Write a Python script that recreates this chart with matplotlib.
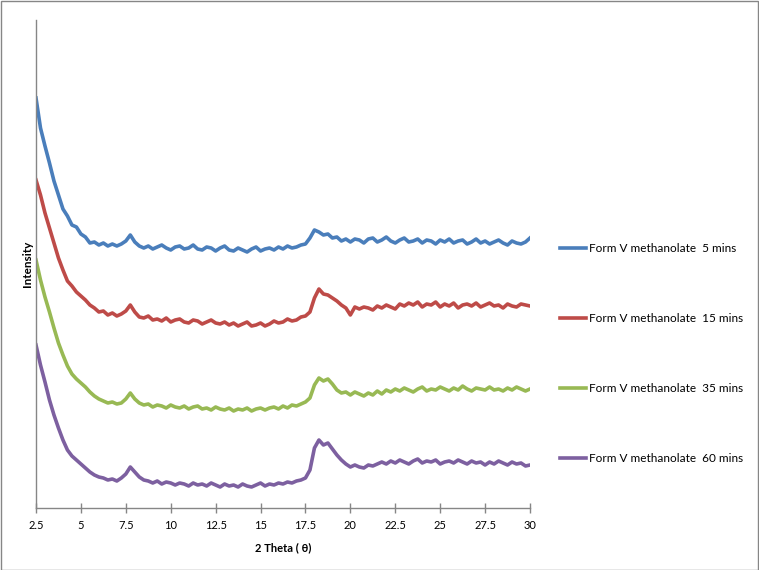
import numpy as np
import matplotlib
matplotlib.use("Agg")
import matplotlib.pyplot as plt
from matplotlib.patches import Rectangle

plt.rcParams['font.family'] = ['Lato', 'DejaVu Sans']

two_theta = np.arange(2.5, 30.001, 0.25)

form_v_5 = [410, 380, 362, 345, 327, 313, 299, 292, 283, 281,
            274, 271, 265, 266, 263, 265, 262, 264, 262, 264,
            267, 273,
            266, 262, 260, 262, 259, 261, 263, 260, 258, 261,
            262, 259, 260, 263, 259, 258, 261, 260, 257, 260,
            262, 258, 257, 260, 258, 256, 259, 261, 257, 259,
            260, 258, 261, 259, 262, 260, 261, 263, 264,
            270, 278, 276, 273, 274, 270, 271, 267, 269,
            266, 269, 268, 265, 269, 270, 266, 268, 271, 267,
            265, 268, 270, 266, 267, 269, 265, 268, 267, 264,
            268, 266, 269, 265, 267, 268, 264, 266, 269, 265,
            267, 264, 266, 268, 265, 263, 267, 265, 264, 266,
            270]

form_v_15 = [328, 313, 295, 280, 265, 250, 238, 227, 222, 216,
             212, 208, 203, 200, 196, 197, 193, 195, 192, 194,
             197, 203,
             196, 191, 190, 192, 188, 189, 187, 190, 186, 188,
             189, 186, 185, 188, 187, 184, 186, 188, 185, 184,
             186, 183, 185, 182, 184, 186, 182, 183, 185, 182,
             184, 187, 185, 186, 189, 187, 188, 191, 192,
             196, 210, 219, 214, 213, 210, 207, 203, 200, 193,
             201, 199, 201, 200, 198, 202, 200, 203, 201, 199,
             204, 202, 205, 203, 206, 201, 204, 203, 206, 201,
             204, 202, 205, 200, 203, 204, 202, 205, 201, 203,
             205, 202, 203, 200, 204, 202, 201, 204, 203, 202]

form_v_35 = [248, 228, 211, 196, 180, 165, 153, 142, 134, 129,
             125, 121, 116, 112, 109, 107, 105, 106, 104, 105,
             109, 115,
             109, 105, 103, 104, 101, 103, 102, 100, 103, 101,
             100, 102, 99, 101, 102, 99, 100, 98, 101, 99,
             98, 100, 97, 99, 98, 100, 97, 99, 100, 98,
             100, 101, 99, 102, 100, 103, 102, 104, 106,
             110, 123, 130, 127, 129, 124, 118, 115, 116, 113,
             116, 114, 112, 115, 113, 117, 114, 118, 116, 119,
             117, 120, 118, 116, 119, 121, 117, 119, 118, 121,
             119, 117, 120, 118, 122, 119, 117, 120, 119, 118,
             121, 118, 119, 117, 120, 118, 121, 119, 117, 119]

form_v_60 = [163, 143, 126, 108, 93, 80, 68, 58, 52, 48,
             44, 40, 36, 33, 31, 30, 28, 29, 27, 30,
             34, 41,
             36, 31, 28, 27, 25, 27, 24, 26, 25, 23,
             25, 24, 22, 25, 23, 24, 22, 25, 23, 21,
             24, 22, 23, 21, 24, 22, 21, 23, 25, 22,
             24, 23, 25, 24, 26, 25, 27, 28, 30,
             38, 60, 68, 63, 65, 59, 53, 48, 44, 41,
             43, 41, 40, 43, 42, 44, 46, 44, 47, 45,
             48, 46, 44, 47, 49, 45, 47, 46, 48, 44,
             46, 47, 45, 48, 46, 44, 47, 45, 46, 43,
             46, 44, 47, 45, 43, 46, 44, 45, 42, 43]

series_labels = ["Form V methanolate  5 mins",
                 "Form V methanolate  15 mins",
                 "Form V methanolate  35 mins",
                 "Form V methanolate  60 mins"]
series_colors = ["#4A7EBB", "#BE4B48", "#98B954", "#7D60A0"]
x_ticks = [2.5, 5, 7.5, 10, 12.5, 15, 17.5, 20, 22.5, 25, 27.5, 30]
x_tick_labels = ["2.5", "5", "7.5", "10", "12.5", "15", "17.5", "20",
                 "22.5", "25", "27.5", "30"]

fig = plt.figure(figsize=(7.59, 5.70), dpi=100)
ax = fig.add_axes([36/759, 62/570, 494/759, 488/570])

for vals, lab, col in zip([form_v_5, form_v_15, form_v_35, form_v_60],
                          series_labels, series_colors):
    ax.plot(two_theta, vals, color=col, lw=2.6, label=lab,
            solid_joinstyle='round')

ax.set_xlim(2.5, 30)
ax.set_ylim(0, 488)
ax.set_xticks(x_ticks)
ax.set_xticklabels(x_tick_labels)
ax.set_yticks([])
for s in ['top', 'right']:
    ax.spines[s].set_visible(False)
for s in ['left', 'bottom']:
    ax.spines[s].set_color('#868686')
    ax.spines[s].set_linewidth(1.0)
ax.tick_params(axis='x', direction='inout', length=7, width=1,
               color='#868686', labelsize=8, pad=5)
ax.set_xlabel("2 Theta ( \u03b8)", fontsize=8, fontweight='bold', labelpad=8)
ax.set_ylabel("Intensity", fontsize=8.5, fontweight='bold', labelpad=2)

leg = ax.legend(loc='upper left', bbox_to_anchor=(519/494, (508-238)/488),
                frameon=False, fontsize=8.5, handlelength=2.2, handletextpad=0.3,
                labelspacing=5.0, borderaxespad=0)

fig.patches.append(Rectangle((0.5/759, 0.5/570), 1 - 1.5/759, 1 - 1.5/570,
                             transform=fig.transFigure, fill=False,
                             edgecolor='#868686', lw=1))

fig.savefig("out.png", dpi=100)
